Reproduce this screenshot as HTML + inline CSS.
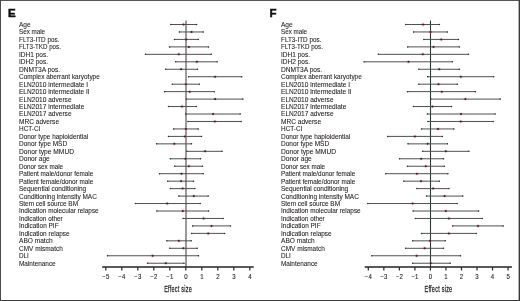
<!DOCTYPE html>
<html><head><meta charset="utf-8"><style>
html,body{margin:0;padding:0;background:#fff;}
body{width:520px;height:301px;overflow:hidden;position:relative;}
svg{font-variant-ligatures:none;position:absolute;left:0;top:0;will-change:transform;font-family:"Liberation Sans",sans-serif;}
</style></head><body>
<svg width="520" height="301" viewBox="0 0 520 301">
<rect x="0" y="0" width="520" height="301" fill="#fff"/>
<text x="8.0" y="17.05" font-family="Liberation Sans" font-weight="bold" font-size="11.5" fill="#111" stroke="#111" stroke-width="0.5">E</text>
<text x="19" y="26.95" font-size="6.35" textLength="11.66" lengthAdjust="spacingAndGlyphs" fill="#231f20" stroke="#231f20" stroke-width="0.08">Age</text>
<text x="19" y="34.41" font-size="6.35" textLength="26.11" lengthAdjust="spacingAndGlyphs" fill="#231f20" stroke="#231f20" stroke-width="0.08">Sex male</text>
<text x="19" y="41.87" font-size="6.35" textLength="40.46" lengthAdjust="spacingAndGlyphs" fill="#231f20" stroke="#231f20" stroke-width="0.08">FLT3-ITD pos.</text>
<text x="19" y="49.33" font-size="6.35" textLength="41.85" lengthAdjust="spacingAndGlyphs" fill="#231f20" stroke="#231f20" stroke-width="0.08">FLT3-TKD pos.</text>
<text x="19" y="56.79" font-size="6.35" textLength="29.04" lengthAdjust="spacingAndGlyphs" fill="#231f20" stroke="#231f20" stroke-width="0.08">IDH1 pos.</text>
<text x="19" y="64.25" font-size="6.35" textLength="29.04" lengthAdjust="spacingAndGlyphs" fill="#231f20" stroke="#231f20" stroke-width="0.08">IDH2 pos.</text>
<text x="19" y="71.71" font-size="6.35" textLength="41.14" lengthAdjust="spacingAndGlyphs" fill="#231f20" stroke="#231f20" stroke-width="0.08">DNMT3A pos.</text>
<text x="19" y="79.17" font-size="6.35" textLength="80.77" lengthAdjust="spacingAndGlyphs" fill="#231f20" stroke="#231f20" stroke-width="0.08">Complex aberrant karyotype</text>
<text x="19" y="86.63" font-size="6.35" textLength="69.03" lengthAdjust="spacingAndGlyphs" fill="#231f20" stroke="#231f20" stroke-width="0.08">ELN2010 intermediate I</text>
<text x="19" y="94.09" font-size="6.35" textLength="70.69" lengthAdjust="spacingAndGlyphs" fill="#231f20" stroke="#231f20" stroke-width="0.08">ELN2010 intermediate II</text>
<text x="19" y="101.55" font-size="6.35" textLength="52.56" lengthAdjust="spacingAndGlyphs" fill="#231f20" stroke="#231f20" stroke-width="0.08">ELN2010 adverse</text>
<text x="19" y="109.01" font-size="6.35" textLength="65.29" lengthAdjust="spacingAndGlyphs" fill="#231f20" stroke="#231f20" stroke-width="0.08">ELN2017 intermediate</text>
<text x="19" y="116.47" font-size="6.35" textLength="52.56" lengthAdjust="spacingAndGlyphs" fill="#231f20" stroke="#231f20" stroke-width="0.08">ELN2017 adverse</text>
<text x="19" y="123.93" font-size="6.35" textLength="40.04" lengthAdjust="spacingAndGlyphs" fill="#231f20" stroke="#231f20" stroke-width="0.08">MRC adverse</text>
<text x="19" y="131.39" font-size="6.35" textLength="21.37" lengthAdjust="spacingAndGlyphs" fill="#231f20" stroke="#231f20" stroke-width="0.08">HCT-CI</text>
<text x="19" y="138.85" font-size="6.35" textLength="69.29" lengthAdjust="spacingAndGlyphs" fill="#231f20" stroke="#231f20" stroke-width="0.08">Donor type haploidential</text>
<text x="19" y="146.31" font-size="6.35" textLength="48.13" lengthAdjust="spacingAndGlyphs" fill="#231f20" stroke="#231f20" stroke-width="0.08">Donor type MSD</text>
<text x="19" y="153.77" font-size="6.35" textLength="55.00" lengthAdjust="spacingAndGlyphs" fill="#231f20" stroke="#231f20" stroke-width="0.08">Donor type MMUD</text>
<text x="19" y="161.23" font-size="6.35" textLength="30.78" lengthAdjust="spacingAndGlyphs" fill="#231f20" stroke="#231f20" stroke-width="0.08">Donor age</text>
<text x="19" y="168.69" font-size="6.35" textLength="44.06" lengthAdjust="spacingAndGlyphs" fill="#231f20" stroke="#231f20" stroke-width="0.08">Donor sex male</text>
<text x="19" y="176.15" font-size="6.35" textLength="74.22" lengthAdjust="spacingAndGlyphs" fill="#231f20" stroke="#231f20" stroke-width="0.08">Patient male/donor female</text>
<text x="19" y="183.61" font-size="6.35" textLength="74.22" lengthAdjust="spacingAndGlyphs" fill="#231f20" stroke="#231f20" stroke-width="0.08">Patient female/donor male</text>
<text x="19" y="191.07" font-size="6.35" textLength="67.18" lengthAdjust="spacingAndGlyphs" fill="#231f20" stroke="#231f20" stroke-width="0.08">Sequential conditioning</text>
<text x="19" y="198.53" font-size="6.35" textLength="77.84" lengthAdjust="spacingAndGlyphs" fill="#231f20" stroke="#231f20" stroke-width="0.08">Conditioning intensity MAC</text>
<text x="19" y="205.99" font-size="6.35" textLength="59.02" lengthAdjust="spacingAndGlyphs" fill="#231f20" stroke="#231f20" stroke-width="0.08">Stem cell source BM</text>
<text x="19" y="213.45" font-size="6.35" textLength="79.66" lengthAdjust="spacingAndGlyphs" fill="#231f20" stroke="#231f20" stroke-width="0.08">Indication molecular relapse</text>
<text x="19" y="220.91" font-size="6.35" textLength="43.72" lengthAdjust="spacingAndGlyphs" fill="#231f20" stroke="#231f20" stroke-width="0.08">Indication other</text>
<text x="19" y="228.37" font-size="6.35" textLength="39.64" lengthAdjust="spacingAndGlyphs" fill="#231f20" stroke="#231f20" stroke-width="0.08">Indication PIF</text>
<text x="19" y="235.83" font-size="6.35" textLength="50.69" lengthAdjust="spacingAndGlyphs" fill="#231f20" stroke="#231f20" stroke-width="0.08">Indication relapse</text>
<text x="19" y="243.29" font-size="6.35" textLength="33.57" lengthAdjust="spacingAndGlyphs" fill="#231f20" stroke="#231f20" stroke-width="0.08">ABO match</text>
<text x="19" y="250.75" font-size="6.35" textLength="43.74" lengthAdjust="spacingAndGlyphs" fill="#231f20" stroke="#231f20" stroke-width="0.08">CMV mismatch</text>
<text x="19" y="258.21" font-size="6.35" textLength="9.88" lengthAdjust="spacingAndGlyphs" fill="#231f20" stroke="#231f20" stroke-width="0.08">DLI</text>
<text x="19" y="265.67" font-size="6.35" textLength="36.66" lengthAdjust="spacingAndGlyphs" fill="#231f20" stroke="#231f20" stroke-width="0.08">Maintenance</text>
<line x1="186.0" y1="20.5" x2="186.0" y2="267" stroke="#9c999a" stroke-width="2.0"/>
<ellipse cx="183.5" cy="24.50" rx="2.2" ry="1.9" fill="#e9a9b9" opacity="0.28"/>
<line x1="170.5" y1="24.50" x2="196.9" y2="24.50" stroke="#505050" stroke-width="1"/>
<circle cx="170.80" cy="24.50" r="0.75" fill="#333"/>
<circle cx="196.60" cy="24.50" r="0.75" fill="#333"/>
<circle cx="183.5" cy="24.50" r="1.0" fill="#4e1826"/>
<ellipse cx="191.5" cy="31.96" rx="2.2" ry="1.9" fill="#e9a9b9" opacity="0.28"/>
<line x1="179" y1="31.96" x2="203.5" y2="31.96" stroke="#505050" stroke-width="1"/>
<circle cx="179.30" cy="31.96" r="0.75" fill="#333"/>
<circle cx="203.20" cy="31.96" r="0.75" fill="#333"/>
<circle cx="191.5" cy="31.96" r="1.0" fill="#4e1826"/>
<ellipse cx="186.2" cy="39.42" rx="2.2" ry="1.9" fill="#e9a9b9" opacity="0.28"/>
<line x1="174.2" y1="39.42" x2="198.6" y2="39.42" stroke="#505050" stroke-width="1"/>
<circle cx="174.50" cy="39.42" r="0.75" fill="#333"/>
<circle cx="198.30" cy="39.42" r="0.75" fill="#333"/>
<circle cx="186.2" cy="39.42" r="1.0" fill="#4e1826"/>
<ellipse cx="188.9" cy="46.88" rx="2.2" ry="1.9" fill="#e9a9b9" opacity="0.28"/>
<line x1="169.2" y1="46.88" x2="208.8" y2="46.88" stroke="#505050" stroke-width="1"/>
<circle cx="169.50" cy="46.88" r="0.75" fill="#333"/>
<circle cx="208.50" cy="46.88" r="0.75" fill="#333"/>
<circle cx="188.9" cy="46.88" r="1.0" fill="#4e1826"/>
<ellipse cx="178.8" cy="54.34" rx="2.2" ry="1.9" fill="#e9a9b9" opacity="0.28"/>
<line x1="145.1" y1="54.34" x2="211.5" y2="54.34" stroke="#505050" stroke-width="1"/>
<circle cx="145.40" cy="54.34" r="0.75" fill="#333"/>
<circle cx="211.20" cy="54.34" r="0.75" fill="#333"/>
<circle cx="178.8" cy="54.34" r="1.0" fill="#4e1826"/>
<ellipse cx="196.9" cy="61.80" rx="2.2" ry="1.9" fill="#e9a9b9" opacity="0.28"/>
<line x1="175.4" y1="61.80" x2="217.4" y2="61.80" stroke="#505050" stroke-width="1"/>
<circle cx="175.70" cy="61.80" r="0.75" fill="#333"/>
<circle cx="217.10" cy="61.80" r="0.75" fill="#333"/>
<circle cx="196.9" cy="61.80" r="1.0" fill="#4e1826"/>
<ellipse cx="181.1" cy="69.26" rx="2.2" ry="1.9" fill="#e9a9b9" opacity="0.28"/>
<line x1="165.4" y1="69.26" x2="197.7" y2="69.26" stroke="#505050" stroke-width="1"/>
<circle cx="165.70" cy="69.26" r="0.75" fill="#333"/>
<circle cx="197.40" cy="69.26" r="0.75" fill="#333"/>
<circle cx="181.1" cy="69.26" r="1.0" fill="#4e1826"/>
<ellipse cx="215.1" cy="76.72" rx="2.2" ry="1.9" fill="#e9a9b9" opacity="0.28"/>
<line x1="188.2" y1="76.72" x2="242" y2="76.72" stroke="#505050" stroke-width="1"/>
<circle cx="188.50" cy="76.72" r="0.75" fill="#333"/>
<circle cx="241.70" cy="76.72" r="0.75" fill="#333"/>
<circle cx="215.1" cy="76.72" r="1.0" fill="#4e1826"/>
<ellipse cx="185.8" cy="84.18" rx="2.2" ry="1.9" fill="#e9a9b9" opacity="0.28"/>
<line x1="172" y1="84.18" x2="199.7" y2="84.18" stroke="#505050" stroke-width="1"/>
<circle cx="172.30" cy="84.18" r="0.75" fill="#333"/>
<circle cx="199.40" cy="84.18" r="0.75" fill="#333"/>
<circle cx="185.8" cy="84.18" r="1.0" fill="#4e1826"/>
<ellipse cx="189.7" cy="91.64" rx="2.2" ry="1.9" fill="#e9a9b9" opacity="0.28"/>
<line x1="164.3" y1="91.64" x2="214.6" y2="91.64" stroke="#505050" stroke-width="1"/>
<circle cx="164.60" cy="91.64" r="0.75" fill="#333"/>
<circle cx="214.30" cy="91.64" r="0.75" fill="#333"/>
<circle cx="189.7" cy="91.64" r="1.0" fill="#4e1826"/>
<ellipse cx="215.1" cy="99.10" rx="2.2" ry="1.9" fill="#e9a9b9" opacity="0.28"/>
<line x1="186.2" y1="99.10" x2="243.1" y2="99.10" stroke="#505050" stroke-width="1"/>
<circle cx="186.50" cy="99.10" r="0.75" fill="#333"/>
<circle cx="242.80" cy="99.10" r="0.75" fill="#333"/>
<circle cx="215.1" cy="99.10" r="1.0" fill="#4e1826"/>
<ellipse cx="182" cy="106.56" rx="2.2" ry="1.9" fill="#e9a9b9" opacity="0.28"/>
<line x1="168.2" y1="106.56" x2="196.5" y2="106.56" stroke="#505050" stroke-width="1"/>
<circle cx="168.50" cy="106.56" r="0.75" fill="#333"/>
<circle cx="196.20" cy="106.56" r="0.75" fill="#333"/>
<circle cx="182" cy="106.56" r="1.0" fill="#4e1826"/>
<ellipse cx="213.1" cy="114.02" rx="2.2" ry="1.9" fill="#e9a9b9" opacity="0.28"/>
<line x1="185.4" y1="114.02" x2="240.5" y2="114.02" stroke="#505050" stroke-width="1"/>
<circle cx="185.70" cy="114.02" r="0.75" fill="#333"/>
<circle cx="240.20" cy="114.02" r="0.75" fill="#333"/>
<circle cx="213.1" cy="114.02" r="1.0" fill="#4e1826"/>
<ellipse cx="214.9" cy="121.48" rx="2.2" ry="1.9" fill="#e9a9b9" opacity="0.28"/>
<line x1="187.7" y1="121.48" x2="241.5" y2="121.48" stroke="#505050" stroke-width="1"/>
<circle cx="188.00" cy="121.48" r="0.75" fill="#333"/>
<circle cx="241.20" cy="121.48" r="0.75" fill="#333"/>
<circle cx="214.9" cy="121.48" r="1.0" fill="#4e1826"/>
<ellipse cx="185.8" cy="128.94" rx="2.2" ry="1.9" fill="#e9a9b9" opacity="0.28"/>
<line x1="173.3" y1="128.94" x2="198.5" y2="128.94" stroke="#505050" stroke-width="1"/>
<circle cx="173.60" cy="128.94" r="0.75" fill="#333"/>
<circle cx="198.20" cy="128.94" r="0.75" fill="#333"/>
<circle cx="185.8" cy="128.94" r="1.0" fill="#4e1826"/>
<ellipse cx="184.9" cy="136.40" rx="2.2" ry="1.9" fill="#e9a9b9" opacity="0.28"/>
<line x1="168.2" y1="136.40" x2="201.8" y2="136.40" stroke="#505050" stroke-width="1"/>
<circle cx="168.50" cy="136.40" r="0.75" fill="#333"/>
<circle cx="201.50" cy="136.40" r="0.75" fill="#333"/>
<circle cx="184.9" cy="136.40" r="1.0" fill="#4e1826"/>
<ellipse cx="174.3" cy="143.86" rx="2.2" ry="1.9" fill="#e9a9b9" opacity="0.28"/>
<line x1="156.3" y1="143.86" x2="191.8" y2="143.86" stroke="#505050" stroke-width="1"/>
<circle cx="156.60" cy="143.86" r="0.75" fill="#333"/>
<circle cx="191.50" cy="143.86" r="0.75" fill="#333"/>
<circle cx="174.3" cy="143.86" r="1.0" fill="#4e1826"/>
<ellipse cx="205.1" cy="151.32" rx="2.2" ry="1.9" fill="#e9a9b9" opacity="0.28"/>
<line x1="186.6" y1="151.32" x2="222.3" y2="151.32" stroke="#505050" stroke-width="1"/>
<circle cx="186.90" cy="151.32" r="0.75" fill="#333"/>
<circle cx="222.00" cy="151.32" r="0.75" fill="#333"/>
<circle cx="205.1" cy="151.32" r="1.0" fill="#4e1826"/>
<ellipse cx="185.4" cy="158.78" rx="2.2" ry="1.9" fill="#e9a9b9" opacity="0.28"/>
<line x1="170" y1="158.78" x2="200.8" y2="158.78" stroke="#505050" stroke-width="1"/>
<circle cx="170.30" cy="158.78" r="0.75" fill="#333"/>
<circle cx="200.50" cy="158.78" r="0.75" fill="#333"/>
<circle cx="185.4" cy="158.78" r="1.0" fill="#4e1826"/>
<ellipse cx="188.8" cy="166.24" rx="2.2" ry="1.9" fill="#e9a9b9" opacity="0.28"/>
<line x1="174.3" y1="166.24" x2="202.8" y2="166.24" stroke="#505050" stroke-width="1"/>
<circle cx="174.60" cy="166.24" r="0.75" fill="#333"/>
<circle cx="202.50" cy="166.24" r="0.75" fill="#333"/>
<circle cx="188.8" cy="166.24" r="1.0" fill="#4e1826"/>
<ellipse cx="181.5" cy="173.70" rx="2.2" ry="1.9" fill="#e9a9b9" opacity="0.28"/>
<line x1="159.2" y1="173.70" x2="203.5" y2="173.70" stroke="#505050" stroke-width="1"/>
<circle cx="159.50" cy="173.70" r="0.75" fill="#333"/>
<circle cx="203.20" cy="173.70" r="0.75" fill="#333"/>
<circle cx="181.5" cy="173.70" r="1.0" fill="#4e1826"/>
<ellipse cx="181.1" cy="181.16" rx="2.2" ry="1.9" fill="#e9a9b9" opacity="0.28"/>
<line x1="167.4" y1="181.16" x2="193.8" y2="181.16" stroke="#505050" stroke-width="1"/>
<circle cx="167.70" cy="181.16" r="0.75" fill="#333"/>
<circle cx="193.50" cy="181.16" r="0.75" fill="#333"/>
<circle cx="181.1" cy="181.16" r="1.0" fill="#4e1826"/>
<ellipse cx="182.6" cy="188.62" rx="2.2" ry="1.9" fill="#e9a9b9" opacity="0.28"/>
<line x1="170" y1="188.62" x2="195.1" y2="188.62" stroke="#505050" stroke-width="1"/>
<circle cx="170.30" cy="188.62" r="0.75" fill="#333"/>
<circle cx="194.80" cy="188.62" r="0.75" fill="#333"/>
<circle cx="182.6" cy="188.62" r="1.0" fill="#4e1826"/>
<ellipse cx="193.8" cy="196.08" rx="2.2" ry="1.9" fill="#e9a9b9" opacity="0.28"/>
<line x1="178.5" y1="196.08" x2="208.5" y2="196.08" stroke="#505050" stroke-width="1"/>
<circle cx="178.80" cy="196.08" r="0.75" fill="#333"/>
<circle cx="208.20" cy="196.08" r="0.75" fill="#333"/>
<circle cx="193.8" cy="196.08" r="1.0" fill="#4e1826"/>
<ellipse cx="167.2" cy="203.54" rx="2.2" ry="1.9" fill="#e9a9b9" opacity="0.28"/>
<line x1="135.1" y1="203.54" x2="200.5" y2="203.54" stroke="#505050" stroke-width="1"/>
<circle cx="135.40" cy="203.54" r="0.75" fill="#333"/>
<circle cx="200.20" cy="203.54" r="0.75" fill="#333"/>
<circle cx="167.2" cy="203.54" r="1.0" fill="#4e1826"/>
<ellipse cx="182.8" cy="211.00" rx="2.2" ry="1.9" fill="#e9a9b9" opacity="0.28"/>
<line x1="156.6" y1="211.00" x2="208.9" y2="211.00" stroke="#505050" stroke-width="1"/>
<circle cx="156.90" cy="211.00" r="0.75" fill="#333"/>
<circle cx="208.60" cy="211.00" r="0.75" fill="#333"/>
<circle cx="182.8" cy="211.00" r="1.0" fill="#4e1826"/>
<ellipse cx="203.5" cy="218.46" rx="2.2" ry="1.9" fill="#e9a9b9" opacity="0.28"/>
<line x1="182.8" y1="218.46" x2="223.5" y2="218.46" stroke="#505050" stroke-width="1"/>
<circle cx="183.10" cy="218.46" r="0.75" fill="#333"/>
<circle cx="223.20" cy="218.46" r="0.75" fill="#333"/>
<circle cx="203.5" cy="218.46" r="1.0" fill="#4e1826"/>
<ellipse cx="211.5" cy="225.92" rx="2.2" ry="1.9" fill="#e9a9b9" opacity="0.28"/>
<line x1="192.3" y1="225.92" x2="230.8" y2="225.92" stroke="#505050" stroke-width="1"/>
<circle cx="192.60" cy="225.92" r="0.75" fill="#333"/>
<circle cx="230.50" cy="225.92" r="0.75" fill="#333"/>
<circle cx="211.5" cy="225.92" r="1.0" fill="#4e1826"/>
<ellipse cx="208.2" cy="233.38" rx="2.2" ry="1.9" fill="#e9a9b9" opacity="0.28"/>
<line x1="191.3" y1="233.38" x2="224.9" y2="233.38" stroke="#505050" stroke-width="1"/>
<circle cx="191.60" cy="233.38" r="0.75" fill="#333"/>
<circle cx="224.60" cy="233.38" r="0.75" fill="#333"/>
<circle cx="208.2" cy="233.38" r="1.0" fill="#4e1826"/>
<ellipse cx="178.9" cy="240.84" rx="2.2" ry="1.9" fill="#e9a9b9" opacity="0.28"/>
<line x1="166.5" y1="240.84" x2="191.5" y2="240.84" stroke="#505050" stroke-width="1"/>
<circle cx="166.80" cy="240.84" r="0.75" fill="#333"/>
<circle cx="191.20" cy="240.84" r="0.75" fill="#333"/>
<circle cx="178.9" cy="240.84" r="1.0" fill="#4e1826"/>
<ellipse cx="183.4" cy="248.30" rx="2.2" ry="1.9" fill="#e9a9b9" opacity="0.28"/>
<line x1="169.5" y1="248.30" x2="197.4" y2="248.30" stroke="#505050" stroke-width="1"/>
<circle cx="169.80" cy="248.30" r="0.75" fill="#333"/>
<circle cx="197.10" cy="248.30" r="0.75" fill="#333"/>
<circle cx="183.4" cy="248.30" r="1.0" fill="#4e1826"/>
<ellipse cx="152.6" cy="255.76" rx="2.2" ry="1.9" fill="#e9a9b9" opacity="0.28"/>
<line x1="107.2" y1="255.76" x2="198.8" y2="255.76" stroke="#505050" stroke-width="1"/>
<circle cx="107.50" cy="255.76" r="0.75" fill="#333"/>
<circle cx="198.50" cy="255.76" r="0.75" fill="#333"/>
<circle cx="152.6" cy="255.76" r="1.0" fill="#4e1826"/>
<ellipse cx="165.8" cy="263.22" rx="2.2" ry="1.9" fill="#e9a9b9" opacity="0.28"/>
<line x1="147.2" y1="263.22" x2="184.3" y2="263.22" stroke="#505050" stroke-width="1"/>
<circle cx="147.50" cy="263.22" r="0.75" fill="#333"/>
<circle cx="184.00" cy="263.22" r="0.75" fill="#333"/>
<circle cx="165.8" cy="263.22" r="1.0" fill="#4e1826"/>
<line x1="102.2" y1="267" x2="253.7" y2="267" stroke="#222" stroke-width="1.6"/>
<line x1="105.80" y1="267" x2="105.80" y2="270.5" stroke="#333" stroke-width="1.3"/>
<text transform="translate(105.80,279.3) scale(0.9,1)" font-size="6.7" fill="#231f20" stroke="#231f20" stroke-width="0.12" text-anchor="middle">−5</text>
<line x1="121.80" y1="267" x2="121.80" y2="270.5" stroke="#333" stroke-width="1.3"/>
<text transform="translate(121.80,279.3) scale(0.9,1)" font-size="6.7" fill="#231f20" stroke="#231f20" stroke-width="0.12" text-anchor="middle">−4</text>
<line x1="137.80" y1="267" x2="137.80" y2="270.5" stroke="#333" stroke-width="1.3"/>
<text transform="translate(137.80,279.3) scale(0.9,1)" font-size="6.7" fill="#231f20" stroke="#231f20" stroke-width="0.12" text-anchor="middle">−3</text>
<line x1="153.80" y1="267" x2="153.80" y2="270.5" stroke="#333" stroke-width="1.3"/>
<text transform="translate(153.80,279.3) scale(0.9,1)" font-size="6.7" fill="#231f20" stroke="#231f20" stroke-width="0.12" text-anchor="middle">−2</text>
<line x1="169.80" y1="267" x2="169.80" y2="270.5" stroke="#333" stroke-width="1.3"/>
<text transform="translate(169.80,279.3) scale(0.9,1)" font-size="6.7" fill="#231f20" stroke="#231f20" stroke-width="0.12" text-anchor="middle">−1</text>
<line x1="185.80" y1="267" x2="185.80" y2="270.5" stroke="#333" stroke-width="1.3"/>
<text transform="translate(185.80,279.3) scale(0.9,1)" font-size="6.7" fill="#231f20" stroke="#231f20" stroke-width="0.12" text-anchor="middle">0</text>
<line x1="201.80" y1="267" x2="201.80" y2="270.5" stroke="#333" stroke-width="1.3"/>
<text transform="translate(201.80,279.3) scale(0.9,1)" font-size="6.7" fill="#231f20" stroke="#231f20" stroke-width="0.12" text-anchor="middle">1</text>
<line x1="217.80" y1="267" x2="217.80" y2="270.5" stroke="#333" stroke-width="1.3"/>
<text transform="translate(217.80,279.3) scale(0.9,1)" font-size="6.7" fill="#231f20" stroke="#231f20" stroke-width="0.12" text-anchor="middle">2</text>
<line x1="233.80" y1="267" x2="233.80" y2="270.5" stroke="#333" stroke-width="1.3"/>
<text transform="translate(233.80,279.3) scale(0.9,1)" font-size="6.7" fill="#231f20" stroke="#231f20" stroke-width="0.12" text-anchor="middle">3</text>
<line x1="249.80" y1="267" x2="249.80" y2="270.5" stroke="#333" stroke-width="1.3"/>
<text transform="translate(249.80,279.3) scale(0.9,1)" font-size="6.7" fill="#231f20" stroke="#231f20" stroke-width="0.12" text-anchor="middle">4</text>
<text transform="translate(178.10,291.8) scale(0.58,1)" x="0" y="0" font-size="9.4" letter-spacing="0.45" fill="#231f20" stroke="#231f20" stroke-width="0.25" text-anchor="middle">Effect size</text>
<text x="269.4" y="17.05" font-family="Liberation Sans" font-weight="bold" font-size="11.5" fill="#111" stroke="#111" stroke-width="0.5">F</text>
<text x="281" y="26.95" font-size="6.35" textLength="11.66" lengthAdjust="spacingAndGlyphs" fill="#231f20" stroke="#231f20" stroke-width="0.08">Age</text>
<text x="281" y="34.41" font-size="6.35" textLength="26.11" lengthAdjust="spacingAndGlyphs" fill="#231f20" stroke="#231f20" stroke-width="0.08">Sex male</text>
<text x="281" y="41.87" font-size="6.35" textLength="40.46" lengthAdjust="spacingAndGlyphs" fill="#231f20" stroke="#231f20" stroke-width="0.08">FLT3-ITD pos.</text>
<text x="281" y="49.33" font-size="6.35" textLength="41.85" lengthAdjust="spacingAndGlyphs" fill="#231f20" stroke="#231f20" stroke-width="0.08">FLT3-TKD pos.</text>
<text x="281" y="56.79" font-size="6.35" textLength="29.04" lengthAdjust="spacingAndGlyphs" fill="#231f20" stroke="#231f20" stroke-width="0.08">IDH1 pos.</text>
<text x="281" y="64.25" font-size="6.35" textLength="29.04" lengthAdjust="spacingAndGlyphs" fill="#231f20" stroke="#231f20" stroke-width="0.08">IDH2 pos.</text>
<text x="281" y="71.71" font-size="6.35" textLength="41.14" lengthAdjust="spacingAndGlyphs" fill="#231f20" stroke="#231f20" stroke-width="0.08">DNMT3A pos.</text>
<text x="281" y="79.17" font-size="6.35" textLength="80.77" lengthAdjust="spacingAndGlyphs" fill="#231f20" stroke="#231f20" stroke-width="0.08">Complex aberrant karyotype</text>
<text x="281" y="86.63" font-size="6.35" textLength="69.03" lengthAdjust="spacingAndGlyphs" fill="#231f20" stroke="#231f20" stroke-width="0.08">ELN2010 intermediate I</text>
<text x="281" y="94.09" font-size="6.35" textLength="70.69" lengthAdjust="spacingAndGlyphs" fill="#231f20" stroke="#231f20" stroke-width="0.08">ELN2010 intermediate II</text>
<text x="281" y="101.55" font-size="6.35" textLength="52.56" lengthAdjust="spacingAndGlyphs" fill="#231f20" stroke="#231f20" stroke-width="0.08">ELN2010 adverse</text>
<text x="281" y="109.01" font-size="6.35" textLength="65.29" lengthAdjust="spacingAndGlyphs" fill="#231f20" stroke="#231f20" stroke-width="0.08">ELN2017 intermediate</text>
<text x="281" y="116.47" font-size="6.35" textLength="52.56" lengthAdjust="spacingAndGlyphs" fill="#231f20" stroke="#231f20" stroke-width="0.08">ELN2017 adverse</text>
<text x="281" y="123.93" font-size="6.35" textLength="40.04" lengthAdjust="spacingAndGlyphs" fill="#231f20" stroke="#231f20" stroke-width="0.08">MRC adverse</text>
<text x="281" y="131.39" font-size="6.35" textLength="21.37" lengthAdjust="spacingAndGlyphs" fill="#231f20" stroke="#231f20" stroke-width="0.08">HCT-CI</text>
<text x="281" y="138.85" font-size="6.35" textLength="69.29" lengthAdjust="spacingAndGlyphs" fill="#231f20" stroke="#231f20" stroke-width="0.08">Donor type haploidential</text>
<text x="281" y="146.31" font-size="6.35" textLength="48.13" lengthAdjust="spacingAndGlyphs" fill="#231f20" stroke="#231f20" stroke-width="0.08">Donor type MSD</text>
<text x="281" y="153.77" font-size="6.35" textLength="55.00" lengthAdjust="spacingAndGlyphs" fill="#231f20" stroke="#231f20" stroke-width="0.08">Donor type MMUD</text>
<text x="281" y="161.23" font-size="6.35" textLength="30.78" lengthAdjust="spacingAndGlyphs" fill="#231f20" stroke="#231f20" stroke-width="0.08">Donor age</text>
<text x="281" y="168.69" font-size="6.35" textLength="44.06" lengthAdjust="spacingAndGlyphs" fill="#231f20" stroke="#231f20" stroke-width="0.08">Donor sex male</text>
<text x="281" y="176.15" font-size="6.35" textLength="74.22" lengthAdjust="spacingAndGlyphs" fill="#231f20" stroke="#231f20" stroke-width="0.08">Patient male/donor female</text>
<text x="281" y="183.61" font-size="6.35" textLength="74.22" lengthAdjust="spacingAndGlyphs" fill="#231f20" stroke="#231f20" stroke-width="0.08">Patient female/donor male</text>
<text x="281" y="191.07" font-size="6.35" textLength="67.18" lengthAdjust="spacingAndGlyphs" fill="#231f20" stroke="#231f20" stroke-width="0.08">Sequential conditioning</text>
<text x="281" y="198.53" font-size="6.35" textLength="77.84" lengthAdjust="spacingAndGlyphs" fill="#231f20" stroke="#231f20" stroke-width="0.08">Conditioning intensity MAC</text>
<text x="281" y="205.99" font-size="6.35" textLength="59.02" lengthAdjust="spacingAndGlyphs" fill="#231f20" stroke="#231f20" stroke-width="0.08">Stem cell source BM</text>
<text x="281" y="213.45" font-size="6.35" textLength="79.66" lengthAdjust="spacingAndGlyphs" fill="#231f20" stroke="#231f20" stroke-width="0.08">Indication molecular relapse</text>
<text x="281" y="220.91" font-size="6.35" textLength="43.72" lengthAdjust="spacingAndGlyphs" fill="#231f20" stroke="#231f20" stroke-width="0.08">Indication other</text>
<text x="281" y="228.37" font-size="6.35" textLength="39.64" lengthAdjust="spacingAndGlyphs" fill="#231f20" stroke="#231f20" stroke-width="0.08">Indication PIF</text>
<text x="281" y="235.83" font-size="6.35" textLength="50.69" lengthAdjust="spacingAndGlyphs" fill="#231f20" stroke="#231f20" stroke-width="0.08">Indication relapse</text>
<text x="281" y="243.29" font-size="6.35" textLength="33.57" lengthAdjust="spacingAndGlyphs" fill="#231f20" stroke="#231f20" stroke-width="0.08">ABO match</text>
<text x="281" y="250.75" font-size="6.35" textLength="43.74" lengthAdjust="spacingAndGlyphs" fill="#231f20" stroke="#231f20" stroke-width="0.08">CMV mismatch</text>
<text x="281" y="258.21" font-size="6.35" textLength="9.88" lengthAdjust="spacingAndGlyphs" fill="#231f20" stroke="#231f20" stroke-width="0.08">DLI</text>
<text x="281" y="265.67" font-size="6.35" textLength="36.66" lengthAdjust="spacingAndGlyphs" fill="#231f20" stroke="#231f20" stroke-width="0.08">Maintenance</text>
<line x1="430.5" y1="20.5" x2="430.5" y2="267" stroke="#2e3a33" stroke-width="1.1"/>
<ellipse cx="423.1" cy="24.50" rx="2.2" ry="1.9" fill="#e9a9b9" opacity="0.28"/>
<line x1="405.4" y1="24.50" x2="439.7" y2="24.50" stroke="#505050" stroke-width="1"/>
<circle cx="405.70" cy="24.50" r="0.75" fill="#333"/>
<circle cx="439.40" cy="24.50" r="0.75" fill="#333"/>
<circle cx="423.1" cy="24.50" r="1.0" fill="#4e1826"/>
<ellipse cx="430.5" cy="31.96" rx="2.2" ry="1.9" fill="#e9a9b9" opacity="0.28"/>
<line x1="413.4" y1="31.96" x2="447.7" y2="31.96" stroke="#505050" stroke-width="1"/>
<circle cx="413.70" cy="31.96" r="0.75" fill="#333"/>
<circle cx="447.40" cy="31.96" r="0.75" fill="#333"/>
<circle cx="430.5" cy="31.96" r="1.0" fill="#4e1826"/>
<ellipse cx="441.2" cy="39.42" rx="2.2" ry="1.9" fill="#e9a9b9" opacity="0.28"/>
<line x1="423.5" y1="39.42" x2="458.8" y2="39.42" stroke="#505050" stroke-width="1"/>
<circle cx="423.80" cy="39.42" r="0.75" fill="#333"/>
<circle cx="458.50" cy="39.42" r="0.75" fill="#333"/>
<circle cx="441.2" cy="39.42" r="1.0" fill="#4e1826"/>
<ellipse cx="433.5" cy="46.88" rx="2.2" ry="1.9" fill="#e9a9b9" opacity="0.28"/>
<line x1="407.4" y1="46.88" x2="459.7" y2="46.88" stroke="#505050" stroke-width="1"/>
<circle cx="407.70" cy="46.88" r="0.75" fill="#333"/>
<circle cx="459.40" cy="46.88" r="0.75" fill="#333"/>
<circle cx="433.5" cy="46.88" r="1.0" fill="#4e1826"/>
<ellipse cx="422.8" cy="54.34" rx="2.2" ry="1.9" fill="#e9a9b9" opacity="0.28"/>
<line x1="378" y1="54.34" x2="468.8" y2="54.34" stroke="#505050" stroke-width="1"/>
<circle cx="378.30" cy="54.34" r="0.75" fill="#333"/>
<circle cx="468.50" cy="54.34" r="0.75" fill="#333"/>
<circle cx="422.8" cy="54.34" r="1.0" fill="#4e1826"/>
<ellipse cx="408.5" cy="61.80" rx="2.2" ry="1.9" fill="#e9a9b9" opacity="0.28"/>
<line x1="363.8" y1="61.80" x2="452.6" y2="61.80" stroke="#505050" stroke-width="1"/>
<circle cx="364.10" cy="61.80" r="0.75" fill="#333"/>
<circle cx="452.30" cy="61.80" r="0.75" fill="#333"/>
<circle cx="408.5" cy="61.80" r="1.0" fill="#4e1826"/>
<ellipse cx="439.2" cy="69.26" rx="2.2" ry="1.9" fill="#e9a9b9" opacity="0.28"/>
<line x1="418.5" y1="69.26" x2="459.7" y2="69.26" stroke="#505050" stroke-width="1"/>
<circle cx="418.80" cy="69.26" r="0.75" fill="#333"/>
<circle cx="459.40" cy="69.26" r="0.75" fill="#333"/>
<circle cx="439.2" cy="69.26" r="1.0" fill="#4e1826"/>
<ellipse cx="460.8" cy="76.72" rx="2.2" ry="1.9" fill="#e9a9b9" opacity="0.28"/>
<line x1="427.4" y1="76.72" x2="494" y2="76.72" stroke="#505050" stroke-width="1"/>
<circle cx="427.70" cy="76.72" r="0.75" fill="#333"/>
<circle cx="493.70" cy="76.72" r="0.75" fill="#333"/>
<circle cx="460.8" cy="76.72" r="1.0" fill="#4e1826"/>
<ellipse cx="438.5" cy="84.18" rx="2.2" ry="1.9" fill="#e9a9b9" opacity="0.28"/>
<line x1="418.5" y1="84.18" x2="457.7" y2="84.18" stroke="#505050" stroke-width="1"/>
<circle cx="418.80" cy="84.18" r="0.75" fill="#333"/>
<circle cx="457.40" cy="84.18" r="0.75" fill="#333"/>
<circle cx="438.5" cy="84.18" r="1.0" fill="#4e1826"/>
<ellipse cx="441.8" cy="91.64" rx="2.2" ry="1.9" fill="#e9a9b9" opacity="0.28"/>
<line x1="407.2" y1="91.64" x2="475.7" y2="91.64" stroke="#505050" stroke-width="1"/>
<circle cx="407.50" cy="91.64" r="0.75" fill="#333"/>
<circle cx="475.40" cy="91.64" r="0.75" fill="#333"/>
<circle cx="441.8" cy="91.64" r="1.0" fill="#4e1826"/>
<ellipse cx="465.4" cy="99.10" rx="2.2" ry="1.9" fill="#e9a9b9" opacity="0.28"/>
<line x1="430.5" y1="99.10" x2="500.5" y2="99.10" stroke="#505050" stroke-width="1"/>
<circle cx="430.80" cy="99.10" r="0.75" fill="#333"/>
<circle cx="500.20" cy="99.10" r="0.75" fill="#333"/>
<circle cx="465.4" cy="99.10" r="1.0" fill="#4e1826"/>
<ellipse cx="432.3" cy="106.56" rx="2.2" ry="1.9" fill="#e9a9b9" opacity="0.28"/>
<line x1="413.1" y1="106.56" x2="451.8" y2="106.56" stroke="#505050" stroke-width="1"/>
<circle cx="413.40" cy="106.56" r="0.75" fill="#333"/>
<circle cx="451.50" cy="106.56" r="0.75" fill="#333"/>
<circle cx="432.3" cy="106.56" r="1.0" fill="#4e1826"/>
<ellipse cx="461" cy="114.02" rx="2.2" ry="1.9" fill="#e9a9b9" opacity="0.28"/>
<line x1="427" y1="114.02" x2="495.4" y2="114.02" stroke="#505050" stroke-width="1"/>
<circle cx="427.30" cy="114.02" r="0.75" fill="#333"/>
<circle cx="495.10" cy="114.02" r="0.75" fill="#333"/>
<circle cx="461" cy="114.02" r="1.0" fill="#4e1826"/>
<ellipse cx="460.8" cy="121.48" rx="2.2" ry="1.9" fill="#e9a9b9" opacity="0.28"/>
<line x1="427.7" y1="121.48" x2="493.5" y2="121.48" stroke="#505050" stroke-width="1"/>
<circle cx="428.00" cy="121.48" r="0.75" fill="#333"/>
<circle cx="493.20" cy="121.48" r="0.75" fill="#333"/>
<circle cx="460.8" cy="121.48" r="1.0" fill="#4e1826"/>
<ellipse cx="438" cy="128.94" rx="2.2" ry="1.9" fill="#e9a9b9" opacity="0.28"/>
<line x1="421.2" y1="128.94" x2="454.2" y2="128.94" stroke="#505050" stroke-width="1"/>
<circle cx="421.50" cy="128.94" r="0.75" fill="#333"/>
<circle cx="453.90" cy="128.94" r="0.75" fill="#333"/>
<circle cx="438" cy="128.94" r="1.0" fill="#4e1826"/>
<ellipse cx="414.9" cy="136.40" rx="2.2" ry="1.9" fill="#e9a9b9" opacity="0.28"/>
<line x1="387.4" y1="136.40" x2="442.6" y2="136.40" stroke="#505050" stroke-width="1"/>
<circle cx="387.70" cy="136.40" r="0.75" fill="#333"/>
<circle cx="442.30" cy="136.40" r="0.75" fill="#333"/>
<circle cx="414.9" cy="136.40" r="1.0" fill="#4e1826"/>
<ellipse cx="427.7" cy="143.86" rx="2.2" ry="1.9" fill="#e9a9b9" opacity="0.28"/>
<line x1="407.7" y1="143.86" x2="447.7" y2="143.86" stroke="#505050" stroke-width="1"/>
<circle cx="408.00" cy="143.86" r="0.75" fill="#333"/>
<circle cx="447.40" cy="143.86" r="0.75" fill="#333"/>
<circle cx="427.7" cy="143.86" r="1.0" fill="#4e1826"/>
<ellipse cx="445.8" cy="151.32" rx="2.2" ry="1.9" fill="#e9a9b9" opacity="0.28"/>
<line x1="422.3" y1="151.32" x2="469.2" y2="151.32" stroke="#505050" stroke-width="1"/>
<circle cx="422.60" cy="151.32" r="0.75" fill="#333"/>
<circle cx="468.90" cy="151.32" r="0.75" fill="#333"/>
<circle cx="445.8" cy="151.32" r="1.0" fill="#4e1826"/>
<ellipse cx="421.2" cy="158.78" rx="2.2" ry="1.9" fill="#e9a9b9" opacity="0.28"/>
<line x1="399.2" y1="158.78" x2="443.8" y2="158.78" stroke="#505050" stroke-width="1"/>
<circle cx="399.50" cy="158.78" r="0.75" fill="#333"/>
<circle cx="443.50" cy="158.78" r="0.75" fill="#333"/>
<circle cx="421.2" cy="158.78" r="1.0" fill="#4e1826"/>
<ellipse cx="425.8" cy="166.24" rx="2.2" ry="1.9" fill="#e9a9b9" opacity="0.28"/>
<line x1="407.2" y1="166.24" x2="444.6" y2="166.24" stroke="#505050" stroke-width="1"/>
<circle cx="407.50" cy="166.24" r="0.75" fill="#333"/>
<circle cx="444.30" cy="166.24" r="0.75" fill="#333"/>
<circle cx="425.8" cy="166.24" r="1.0" fill="#4e1826"/>
<ellipse cx="416.9" cy="173.70" rx="2.2" ry="1.9" fill="#e9a9b9" opacity="0.28"/>
<line x1="385.4" y1="173.70" x2="448.2" y2="173.70" stroke="#505050" stroke-width="1"/>
<circle cx="385.70" cy="173.70" r="0.75" fill="#333"/>
<circle cx="447.90" cy="173.70" r="0.75" fill="#333"/>
<circle cx="416.9" cy="173.70" r="1.0" fill="#4e1826"/>
<ellipse cx="421" cy="181.16" rx="2.2" ry="1.9" fill="#e9a9b9" opacity="0.28"/>
<line x1="403.5" y1="181.16" x2="439.7" y2="181.16" stroke="#505050" stroke-width="1"/>
<circle cx="403.80" cy="181.16" r="0.75" fill="#333"/>
<circle cx="439.40" cy="181.16" r="0.75" fill="#333"/>
<circle cx="421" cy="181.16" r="1.0" fill="#4e1826"/>
<ellipse cx="433.1" cy="188.62" rx="2.2" ry="1.9" fill="#e9a9b9" opacity="0.28"/>
<line x1="416.6" y1="188.62" x2="449.2" y2="188.62" stroke="#505050" stroke-width="1"/>
<circle cx="416.90" cy="188.62" r="0.75" fill="#333"/>
<circle cx="448.90" cy="188.62" r="0.75" fill="#333"/>
<circle cx="433.1" cy="188.62" r="1.0" fill="#4e1826"/>
<ellipse cx="444.6" cy="196.08" rx="2.2" ry="1.9" fill="#e9a9b9" opacity="0.28"/>
<line x1="426.2" y1="196.08" x2="463.1" y2="196.08" stroke="#505050" stroke-width="1"/>
<circle cx="426.50" cy="196.08" r="0.75" fill="#333"/>
<circle cx="462.80" cy="196.08" r="0.75" fill="#333"/>
<circle cx="444.6" cy="196.08" r="1.0" fill="#4e1826"/>
<ellipse cx="412.6" cy="203.54" rx="2.2" ry="1.9" fill="#e9a9b9" opacity="0.28"/>
<line x1="367.4" y1="203.54" x2="457.4" y2="203.54" stroke="#505050" stroke-width="1"/>
<circle cx="367.70" cy="203.54" r="0.75" fill="#333"/>
<circle cx="457.10" cy="203.54" r="0.75" fill="#333"/>
<circle cx="412.6" cy="203.54" r="1.0" fill="#4e1826"/>
<ellipse cx="445.8" cy="211.00" rx="2.2" ry="1.9" fill="#e9a9b9" opacity="0.28"/>
<line x1="412.8" y1="211.00" x2="479" y2="211.00" stroke="#505050" stroke-width="1"/>
<circle cx="413.10" cy="211.00" r="0.75" fill="#333"/>
<circle cx="478.70" cy="211.00" r="0.75" fill="#333"/>
<circle cx="445.8" cy="211.00" r="1.0" fill="#4e1826"/>
<ellipse cx="448.9" cy="218.46" rx="2.2" ry="1.9" fill="#e9a9b9" opacity="0.28"/>
<line x1="415.1" y1="218.46" x2="482.5" y2="218.46" stroke="#505050" stroke-width="1"/>
<circle cx="415.40" cy="218.46" r="0.75" fill="#333"/>
<circle cx="482.20" cy="218.46" r="0.75" fill="#333"/>
<circle cx="448.9" cy="218.46" r="1.0" fill="#4e1826"/>
<ellipse cx="478" cy="225.92" rx="2.2" ry="1.9" fill="#e9a9b9" opacity="0.28"/>
<line x1="452.3" y1="225.92" x2="503.5" y2="225.92" stroke="#505050" stroke-width="1"/>
<circle cx="452.60" cy="225.92" r="0.75" fill="#333"/>
<circle cx="503.20" cy="225.92" r="0.75" fill="#333"/>
<circle cx="478" cy="225.92" r="1.0" fill="#4e1826"/>
<ellipse cx="448.9" cy="233.38" rx="2.2" ry="1.9" fill="#e9a9b9" opacity="0.28"/>
<line x1="421.2" y1="233.38" x2="476.5" y2="233.38" stroke="#505050" stroke-width="1"/>
<circle cx="421.50" cy="233.38" r="0.75" fill="#333"/>
<circle cx="476.20" cy="233.38" r="0.75" fill="#333"/>
<circle cx="448.9" cy="233.38" r="1.0" fill="#4e1826"/>
<ellipse cx="430" cy="240.84" rx="2.2" ry="1.9" fill="#e9a9b9" opacity="0.28"/>
<line x1="412.3" y1="240.84" x2="445.6" y2="240.84" stroke="#505050" stroke-width="1"/>
<circle cx="412.60" cy="240.84" r="0.75" fill="#333"/>
<circle cx="445.30" cy="240.84" r="0.75" fill="#333"/>
<circle cx="430" cy="240.84" r="1.0" fill="#4e1826"/>
<ellipse cx="424.6" cy="248.30" rx="2.2" ry="1.9" fill="#e9a9b9" opacity="0.28"/>
<line x1="405.4" y1="248.30" x2="443.8" y2="248.30" stroke="#505050" stroke-width="1"/>
<circle cx="405.70" cy="248.30" r="0.75" fill="#333"/>
<circle cx="443.50" cy="248.30" r="0.75" fill="#333"/>
<circle cx="424.6" cy="248.30" r="1.0" fill="#4e1826"/>
<ellipse cx="416.6" cy="255.76" rx="2.2" ry="1.9" fill="#e9a9b9" opacity="0.28"/>
<line x1="371.5" y1="255.76" x2="460.8" y2="255.76" stroke="#505050" stroke-width="1"/>
<circle cx="371.80" cy="255.76" r="0.75" fill="#333"/>
<circle cx="460.50" cy="255.76" r="0.75" fill="#333"/>
<circle cx="416.6" cy="255.76" r="1.0" fill="#4e1826"/>
<ellipse cx="430.8" cy="263.22" rx="2.2" ry="1.9" fill="#e9a9b9" opacity="0.28"/>
<line x1="412.3" y1="263.22" x2="450.5" y2="263.22" stroke="#505050" stroke-width="1"/>
<circle cx="412.60" cy="263.22" r="0.75" fill="#333"/>
<circle cx="450.20" cy="263.22" r="0.75" fill="#333"/>
<circle cx="430.8" cy="263.22" r="1.0" fill="#4e1826"/>
<line x1="364.7" y1="267" x2="511.9" y2="267" stroke="#222" stroke-width="1.6"/>
<line x1="368.30" y1="267" x2="368.30" y2="270.5" stroke="#333" stroke-width="1.3"/>
<text transform="translate(368.30,279.3) scale(0.9,1)" font-size="6.7" fill="#231f20" stroke="#231f20" stroke-width="0.12" text-anchor="middle">−4</text>
<line x1="383.83" y1="267" x2="383.83" y2="270.5" stroke="#333" stroke-width="1.3"/>
<text transform="translate(383.83,279.3) scale(0.9,1)" font-size="6.7" fill="#231f20" stroke="#231f20" stroke-width="0.12" text-anchor="middle">−3</text>
<line x1="399.36" y1="267" x2="399.36" y2="270.5" stroke="#333" stroke-width="1.3"/>
<text transform="translate(399.36,279.3) scale(0.9,1)" font-size="6.7" fill="#231f20" stroke="#231f20" stroke-width="0.12" text-anchor="middle">−2</text>
<line x1="414.89" y1="267" x2="414.89" y2="270.5" stroke="#333" stroke-width="1.3"/>
<text transform="translate(414.89,279.3) scale(0.9,1)" font-size="6.7" fill="#231f20" stroke="#231f20" stroke-width="0.12" text-anchor="middle">−1</text>
<line x1="430.42" y1="267" x2="430.42" y2="270.5" stroke="#333" stroke-width="1.3"/>
<text transform="translate(430.42,279.3) scale(0.9,1)" font-size="6.7" fill="#231f20" stroke="#231f20" stroke-width="0.12" text-anchor="middle">0</text>
<line x1="445.95" y1="267" x2="445.95" y2="270.5" stroke="#333" stroke-width="1.3"/>
<text transform="translate(445.95,279.3) scale(0.9,1)" font-size="6.7" fill="#231f20" stroke="#231f20" stroke-width="0.12" text-anchor="middle">1</text>
<line x1="461.48" y1="267" x2="461.48" y2="270.5" stroke="#333" stroke-width="1.3"/>
<text transform="translate(461.48,279.3) scale(0.9,1)" font-size="6.7" fill="#231f20" stroke="#231f20" stroke-width="0.12" text-anchor="middle">2</text>
<line x1="477.01" y1="267" x2="477.01" y2="270.5" stroke="#333" stroke-width="1.3"/>
<text transform="translate(477.01,279.3) scale(0.9,1)" font-size="6.7" fill="#231f20" stroke="#231f20" stroke-width="0.12" text-anchor="middle">3</text>
<line x1="492.54" y1="267" x2="492.54" y2="270.5" stroke="#333" stroke-width="1.3"/>
<text transform="translate(492.54,279.3) scale(0.9,1)" font-size="6.7" fill="#231f20" stroke="#231f20" stroke-width="0.12" text-anchor="middle">4</text>
<line x1="508.07" y1="267" x2="508.07" y2="270.5" stroke="#333" stroke-width="1.3"/>
<text transform="translate(508.07,279.3) scale(0.9,1)" font-size="6.7" fill="#231f20" stroke="#231f20" stroke-width="0.12" text-anchor="middle">5</text>
<text transform="translate(438.45,291.8) scale(0.58,1)" x="0" y="0" font-size="9.4" letter-spacing="0.45" fill="#231f20" stroke="#231f20" stroke-width="0.25" text-anchor="middle">Effect size</text>
<rect x="0" y="0" width="520" height="1" fill="#555"/>
<rect x="0" y="0" width="1" height="301" fill="#4a4a4a"/>
<rect x="518.6" y="0" width="1.4" height="301" fill="#3a3a3a"/>
<rect x="0" y="300" width="520" height="1" fill="#3a3a3a"/>
</svg>
</body></html>
